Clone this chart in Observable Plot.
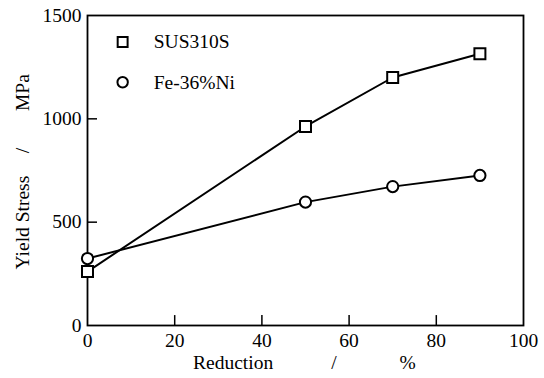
<!DOCTYPE html>
<html><head><meta charset="utf-8">
<script src="https://cdn.jsdelivr.net/npm/d3@7"></script>
<script src="https://cdn.jsdelivr.net/npm/@observablehq/plot@0.6"></script>
<style>body{margin:0;background:#fff}</style>
</head><body><div id="chart"></div>
<script>
const reduction = [0, 50, 70, 90];
const sus310s = [261, 963, 1200, 1315];
const fe36ni = [324, 597, 672, 726];
const xTicks = [0, 20, 40, 60, 80, 100];
const yTicks = [0, 500, 1000, 1500];
const seriesNames = ["SUS310S", "Fe-36%Ni"];
const xTitle = ["Reduction", "/", "%"];
const yTitle = ["Yield Stress", "/", "MPa"];

const sus = reduction.map((r, i) => ({x: r, y: sus310s[i]}));
const fe = reduction.map((r, i) => ({x: r, y: fe36ni[i]}));
const font = "Liberation Serif";
const fs = 19.5;

const plot = Plot.plot({
  width: 544, height: 378,
  marginLeft: 87, marginRight: 21, marginTop: 15, marginBottom: 53,
  style: {background: "#fff", color: "#000"},
  x: {domain: [0, 100]},
  y: {domain: [0, 1500]},
  marks: [
    Plot.axisX({ticks: xTicks, tickSize: 0, tickPadding: 8, fontSize: fs, tickFormat: "d", label: null}),
    Plot.axisY({ticks: yTicks, tickSize: 0, tickPadding: 6, fontSize: fs, tickFormat: "d", label: null}),
    Plot.ruleX(xTicks.slice(1, -1), {y1: 0, y2: 48, stroke: "#000", strokeWidth: 1.5}),
    Plot.ruleY(yTicks.slice(1, -1), {x1: 0, x2: 2.3, stroke: "#000", strokeWidth: 1.5}),
    Plot.frame({stroke: "#000", strokeWidth: 1.8}),
    Plot.line(sus, {x: "x", y: "y", stroke: "#000", strokeWidth: 2}),
    Plot.line(fe, {x: "x", y: "y", stroke: "#000", strokeWidth: 2}),
    Plot.dot(sus, {x: "x", y: "y", symbol: "square", r: 6.2, fill: "#fff", stroke: "#000", strokeWidth: 2}),
    Plot.dot(fe, {x: "x", y: "y", symbol: "circle", r: 5.6, fill: "#fff", stroke: "#000", strokeWidth: 2}),
    // legend
    Plot.dot([seriesNames[0]], {x: () => 8.06, y: () => 1372, symbol: "square", r: 5.6, fill: "#fff", stroke: "#000", strokeWidth: 2}),
    Plot.dot([seriesNames[1]], {x: () => 8.06, y: () => 1177, symbol: "circle", r: 5.2, fill: "#fff", stroke: "#000", strokeWidth: 2}),
    Plot.text(seriesNames, {x: () => 15.2, y: (d, i) => [1372, 1177][i], text: d => d, textAnchor: "start", fontSize: fs, fill: "#000"}),
    // axis titles
    Plot.text(xTitle, {x: (d, i) => [33.4, 56.5, 73.4][i], y: () => -178, text: d => d, fontSize: fs, fill: "#000"}),
    Plot.text(yTitle, {x: () => -14.8, y: (d, i) => [498, 847, 1127][i], text: d => d, rotate: -90, fontSize: fs, fill: "#000"})
  ]
});
plot.setAttribute("font-family", font);
plot.style.fontFamily = font;
plot.querySelectorAll("g, text").forEach(el => {
  el.setAttribute("font-family", font);
  el.style.fontFamily = font;
  el.style.fontVariant = "normal";
});
document.getElementById("chart").append(plot);
</script></body></html>
